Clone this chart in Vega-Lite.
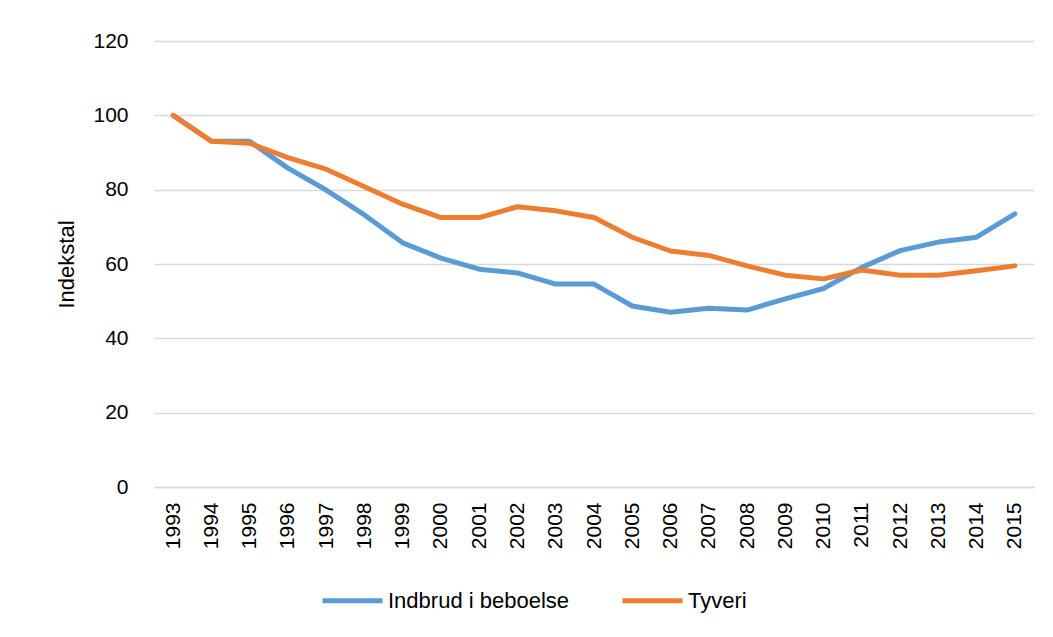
{
  "$schema": "https://vega.github.io/schema/vega-lite/v6.json",
  "width": 880,
  "height": 446,
  "autosize": {"type": "none"},
  "padding": {"left": 154, "top": 41, "right": 19, "bottom": 150},
  "background": "white",
  "config": {
    "view": {"stroke": null},
    "font": "Liberation Sans",
    "axis": {"labelFont": "Liberation Sans", "titleFont": "Liberation Sans", "labelColor": "#000", "titleColor": "#000"},
    "legend": {"labelFont": "Liberation Sans"}
  },
  "data": {
    "values": [
      {"year": "1993", "series": "Indbrud i beboelse", "value": 100},
      {"year": "1994", "series": "Indbrud i beboelse", "value": 93.1},
      {"year": "1995", "series": "Indbrud i beboelse", "value": 93.0},
      {"year": "1996", "series": "Indbrud i beboelse", "value": 85.8},
      {"year": "1997", "series": "Indbrud i beboelse", "value": 79.9},
      {"year": "1998", "series": "Indbrud i beboelse", "value": 73.2},
      {"year": "1999", "series": "Indbrud i beboelse", "value": 65.7},
      {"year": "2000", "series": "Indbrud i beboelse", "value": 61.6},
      {"year": "2001", "series": "Indbrud i beboelse", "value": 58.6},
      {"year": "2002", "series": "Indbrud i beboelse", "value": 57.6},
      {"year": "2003", "series": "Indbrud i beboelse", "value": 54.6},
      {"year": "2004", "series": "Indbrud i beboelse", "value": 54.6},
      {"year": "2005", "series": "Indbrud i beboelse", "value": 48.7},
      {"year": "2006", "series": "Indbrud i beboelse", "value": 47.0},
      {"year": "2007", "series": "Indbrud i beboelse", "value": 48.1},
      {"year": "2008", "series": "Indbrud i beboelse", "value": 47.6},
      {"year": "2009", "series": "Indbrud i beboelse", "value": 50.6},
      {"year": "2010", "series": "Indbrud i beboelse", "value": 53.4},
      {"year": "2011", "series": "Indbrud i beboelse", "value": 59.1},
      {"year": "2012", "series": "Indbrud i beboelse", "value": 63.6},
      {"year": "2013", "series": "Indbrud i beboelse", "value": 65.9},
      {"year": "2014", "series": "Indbrud i beboelse", "value": 67.2},
      {"year": "2015", "series": "Indbrud i beboelse", "value": 73.5},
      {"year": "1993", "series": "Tyveri", "value": 100},
      {"year": "1994", "series": "Tyveri", "value": 93.0},
      {"year": "1995", "series": "Tyveri", "value": 92.5},
      {"year": "1996", "series": "Tyveri", "value": 88.6},
      {"year": "1997", "series": "Tyveri", "value": 85.5},
      {"year": "1998", "series": "Tyveri", "value": 80.8},
      {"year": "1999", "series": "Tyveri", "value": 76.1},
      {"year": "2000", "series": "Tyveri", "value": 72.5},
      {"year": "2001", "series": "Tyveri", "value": 72.5},
      {"year": "2002", "series": "Tyveri", "value": 75.4},
      {"year": "2003", "series": "Tyveri", "value": 74.3},
      {"year": "2004", "series": "Tyveri", "value": 72.5},
      {"year": "2005", "series": "Tyveri", "value": 67.2},
      {"year": "2006", "series": "Tyveri", "value": 63.5},
      {"year": "2007", "series": "Tyveri", "value": 62.3},
      {"year": "2008", "series": "Tyveri", "value": 59.5},
      {"year": "2009", "series": "Tyveri", "value": 57.0},
      {"year": "2010", "series": "Tyveri", "value": 56.0},
      {"year": "2011", "series": "Tyveri", "value": 58.4},
      {"year": "2012", "series": "Tyveri", "value": 57.0},
      {"year": "2013", "series": "Tyveri", "value": 57.0},
      {"year": "2014", "series": "Tyveri", "value": 58.2},
      {"year": "2015", "series": "Tyveri", "value": 59.5}
    ]
  },
  "mark": {"type": "line", "strokeWidth": 5, "strokeCap": "round", "strokeJoin": "round"},
  "encoding": {
    "x": {
      "field": "year",
      "type": "ordinal",
      "scale": {"type": "point", "padding": 0.5},
      "axis": {
        "title": null,
        "labelAngle": -90,
        "labelFontSize": 21,
        "labelPadding": 15,
        "ticks": false,
        "domain": true,
        "domainColor": "#d9d9d9",
        "domainWidth": 1.5,
        "grid": false
      }
    },
    "y": {
      "field": "value",
      "type": "quantitative",
      "scale": {"domain": [0, 120], "nice": false},
      "axis": {
        "title": "Indekstal",
        "titleFontSize": 22,
        "titleFontWeight": "normal",
        "titlePadding": 14,
        "values": [0, 20, 40, 60, 80, 100, 120],
        "labelFontSize": 21,
        "labelPadding": 26,
        "ticks": false,
        "domain": false,
        "grid": true,
        "gridColor": "#d9d9d9",
        "gridWidth": 1.5
      }
    },
    "color": {
      "field": "series",
      "type": "nominal",
      "scale": {"domain": ["Indbrud i beboelse", "Tyveri"], "range": ["#5B9BD5", "#ED7D31"]},
      "legend": {
        "title": null,
        "orient": "none",
        "legendX": 166,
        "legendY": 527,
        "direction": "horizontal",
        "symbolType": "stroke",
        "symbolSize": 3600,
        "symbolStrokeWidth": 5,
        "labelFontSize": 22,
        "labelLimit": 400,
        "labelColor": "#000",
        "labelOffset": 3,
        "columnPadding": 42
      }
    }
  }
}
